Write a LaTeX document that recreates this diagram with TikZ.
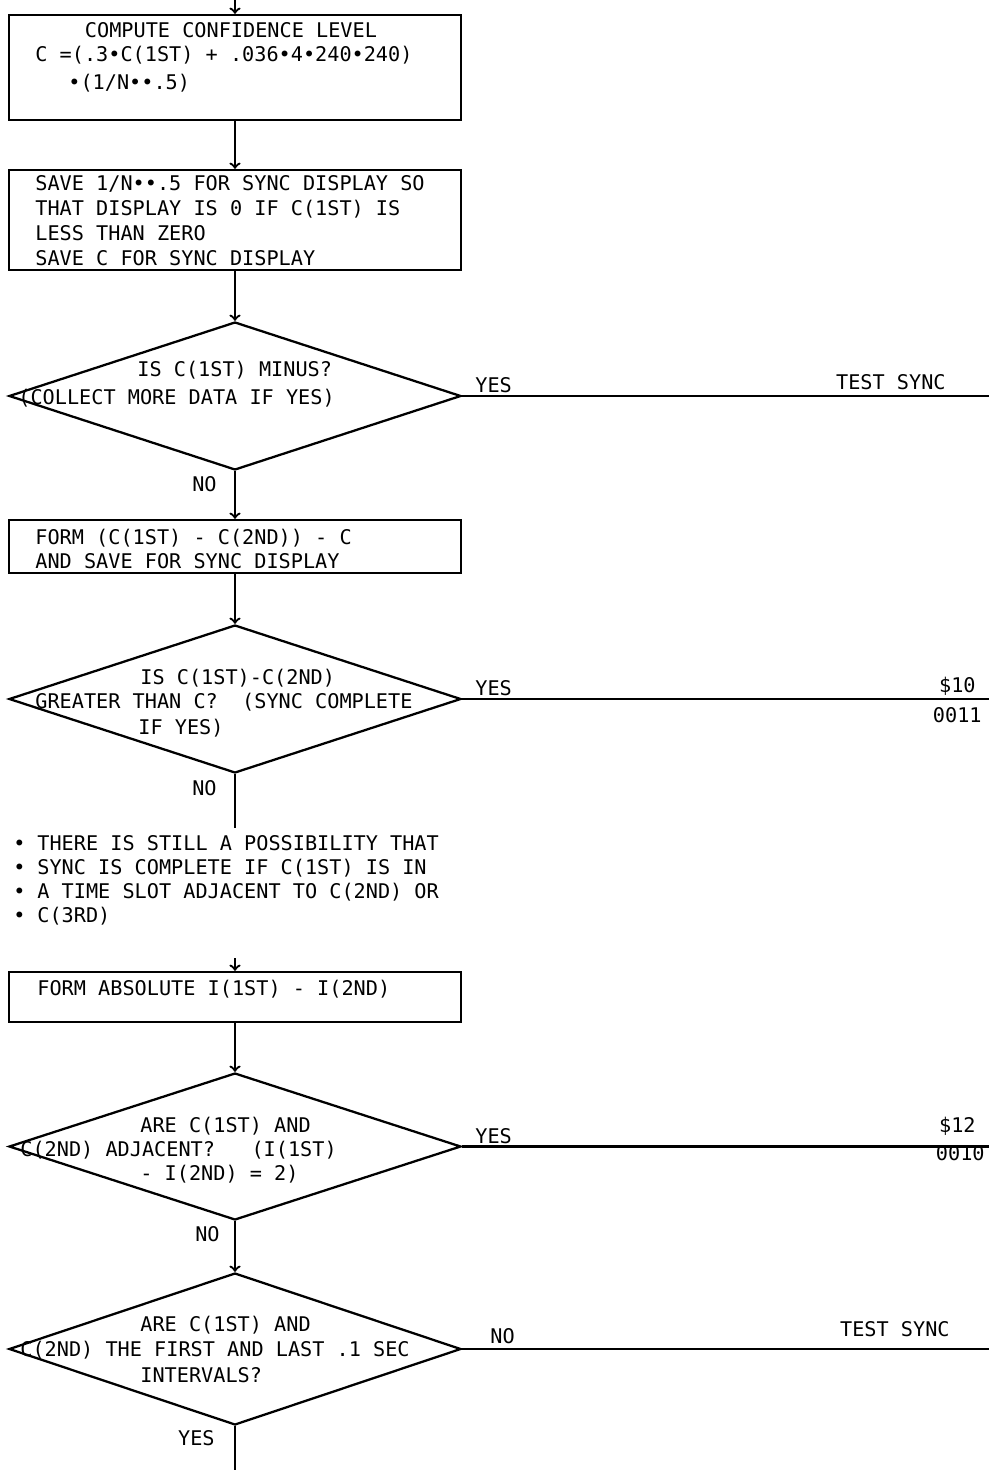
\documentclass[tikz,border=0pt]{standalone}
\usepackage{fontspec}
\setmonofont{DejaVu Sans Mono}
\usetikzlibrary{shapes.geometric}

\begin{document}
\begin{tikzpicture}[x=0.2mm,y=-0.2mm]
\tikzstyle{every node}+=[inner sep=0pt]
\tikzstyle{every edge}+=[draw,line width=1.3pt]
\tikzstyle{box}=[draw,line width=1.3pt,minimum width=90.4mm]
\tikzstyle{decision}=[draw,diamond,line width=1.3pt,minimum width=90.4mm]
\tikzstyle{txt}=[anchor=base west,yshift=-0.4mm,font=\ttfamily\fontsize{11.5}{14}\selectfont]
\tikzstyle{rtxt}=[txt,anchor=base east]

\useasboundingbox (0,0) rectangle (989,1470);

% blocks
\node (box1) [box,minimum height=21mm]   at (235,67.5) {};
\node (box2) [box,minimum height=20mm]   at (235,220) {};
\node (d1)   [decision,minimum height=29.6mm] at (235,396) {};
\node (box3) [box,minimum height=10.6mm] at (235,546.5) {};
\node (d2)   [decision,minimum height=29.6mm] at (235,699) {};
\node (box4) [box,minimum height=10mm]   at (235,997) {};
\node (d3)   [decision,minimum height=29.4mm] at (235,1146.5) {};
\node (d4)   [decision,minimum height=30.4mm] at (235,1349) {};

% loose ends
\coordinate (in1)  at (235,0);
\coordinate (in2)  at (235,958);
\coordinate (cut)  at (235,828);
\coordinate (end)  at (235,1470);
\coordinate (out1) at (989,396);
\coordinate (out2) at (989,699);
\coordinate (out3) at (989,1146.5);
\coordinate (out4) at (989,1349);

\path (in1)  edge[->] (box1)
      (box1) edge[->] (box2)
      (box2) edge[->] (d1)
      (d1)   edge     (out1)
             edge[->] (box3)
      (box3) edge[->] (d2)
      (d2)   edge     (out2)
             edge     (cut)
      (in2)  edge[->] (box4)
      (box4) edge[->] (d3)
      (d3)   edge     (out3)
             edge[->] (d4)
      (d4)   edge     (out4)
             edge     (end);

% box texts
\node (t1a) [txt,anchor=base] at (231,36) {COMPUTE CONFIDENCE LEVEL};
\node (t1b) [txt] at (35,60) {C =(.3•C(1ST) + .036•4•240•240)};
\node (t1c) [txt] at (68,88) {•(1/N••.5)};

\foreach \line [count=\i] in {{SAVE 1/N••.5 FOR SYNC DISPLAY SO},
    {THAT DISPLAY IS 0 IF C(1ST) IS},{LESS THAN ZERO},{SAVE C FOR SYNC DISPLAY}}
  \node (t2-\i) [txt] at (35,{189+24.8*(\i-1)}) {\line};

\node (t3a) [txt] at (35,542) {FORM (C(1ST) - C(2ND)) - C};
\node (t3b) [txt] at (35,566) {AND SAVE FOR SYNC DISPLAY};

\node (t4a) [txt] at (37,993) {FORM ABSOLUTE I(1ST) - I(2ND)};

% decision texts
\node (q1a) [txt] at (137,374) {IS C(1ST) MINUS?};
\node (q1b) [txt] at (18,402)  {(COLLECT MORE DATA IF YES)};

\node (q2a) [txt] at (140,682) {IS C(1ST)-C(2ND)};
\node (q2b) [txt] at (35,706)  {GREATER THAN C?~~(SYNC COMPLETE};
\node (q2c) [txt] at (138,732) {IF YES)};

\node (q3a) [txt] at (140,1130) {ARE C(1ST) AND};
\node (q3b) [txt] at (20,1154)  {C(2ND) ADJACENT?~~~(I(1ST)};
\node (q3c) [txt] at (140,1178) {- I(2ND) = 2)};

\node (q4a) [txt] at (140,1329) {ARE C(1ST) AND};
\node (q4b) [txt] at (20,1354)  {C(2ND) THE FIRST AND LAST .1 SEC};
\node (q4c) [txt] at (140,1380) {INTERVALS?};

% note
\foreach \line [count=\i] in {{THERE IS STILL A POSSIBILITY THAT},
    {SYNC IS COMPLETE IF C(1ST) IS IN},{A TIME SLOT ADJACENT TO C(2ND) OR},{C(3RD)}}
{
  \node (n\i)  [txt] at (13,{848+24*(\i-1)}) {•};
  \node (nt\i) [txt] at (37,{848+24*(\i-1)}) {\line};
}

% branch labels
\node (y1) [txt]  at (475,390) {YES};
\node (n1) [rtxt] at (217,489) {NO};
\node (g1) [rtxt] at (946,387) {TEST SYNC};

\node (y2) [txt]  at (475,693) {YES};
\node (n2) [rtxt] at (217,793) {NO};
\node (g2) [rtxt] at (976,690) {\$10};
\node (c2) [rtxt] at (982,720) {0011};

\node (y3) [txt]  at (475,1141) {YES};
\node (n3) [rtxt] at (220,1239) {NO};
\node (g3) [rtxt] at (976,1130) {\$12};
\node (c3) [rtxt] at (985,1158) {0010};

\node (n4) [txt]  at (490,1341) {NO};
\node (y4) [rtxt] at (215,1443) {YES};
\node (g4) [rtxt] at (950,1334) {TEST SYNC};
\end{tikzpicture}
\end{document}
